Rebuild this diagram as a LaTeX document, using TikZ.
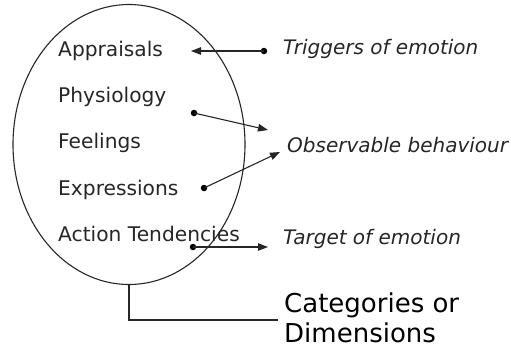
\documentclass[tikz,border=0pt]{standalone}
\usepackage{fontspec}
\setmainfont{DejaVu Sans}
\usetikzlibrary{arrows.meta}
\definecolor{ink}{gray}{0.15}
\begin{document}
\begin{tikzpicture}[x=1pt,y=-1pt,
  item/.style={anchor=base west,inner sep=0pt,text=ink,font=\fontsize{20.2}{23}\selectfont},
  role/.style={anchor=base west,inner sep=0pt,text=ink,font=\fontsize{20}{23}\selectfont\itshape},
  title/.style={anchor=base west,inner sep=0pt,text=black,font=\fontsize{26}{30}\selectfont},
  dot/.style={circle,fill=black,inner sep=0pt,minimum size=6.5pt},
  link/.style={draw=ink,line width=1.1pt,-{Triangle[length=10pt,width=7.5pt]}},
  line/.style={draw=ink,line width=1.1pt}]
\useasboundingbox (0,0) rectangle (511,349);

% the category ellipse
\draw[ink,line width=1.1pt] (129,144.5) ellipse [x radius=116, y radius=140];
\coordinate (bottom) at (129,284.5);

% components listed inside
\node[item] (appr) at (58,56.5) {Appraisals};
\node[item] (phys) at (58,102) {Physiology};
\node[item] (feel) at (58,148) {Feelings};
\node[item] (expr) at (58,195) {Expressions};
\node[item] (act)  at (58,241) {Action Tendencies};

% roles on the right
\node[role] (trig) at (283,54) {Triggers of emotion};
\node[role] (obs)  at (287,152) {Observable behaviour};
\node[role] (targ) at (283,244) {Target of emotion};
\node[title] (cat) at (284,312) {Categories or};
\node[title] (dim) at (284,342) {Dimensions};

% connector ends
\node[dot] (d1) at (264,51) {};
\node[dot] (d2) at (194,113) {};
\node[dot] (d3) at (204,188) {};
\node[dot] (d4) at (193,247) {};
\coordinate (t1) at (191,51);
\coordinate (t2) at (268,130);
\coordinate (t3) at (280,152);
\coordinate (t4) at (268,247);
\coordinate (corner) at (129,320);
\coordinate (tail) at (278,320);

\draw[link] (d1.center) -- (t1);
\draw[link] (d2.center) -- (t2);
\draw[link] (d3.center) -- (t3);
\draw[link] (d4.center) -- (t4);
\draw[line] (bottom) -- (corner) -- (tail);
\end{tikzpicture}
\end{document}
